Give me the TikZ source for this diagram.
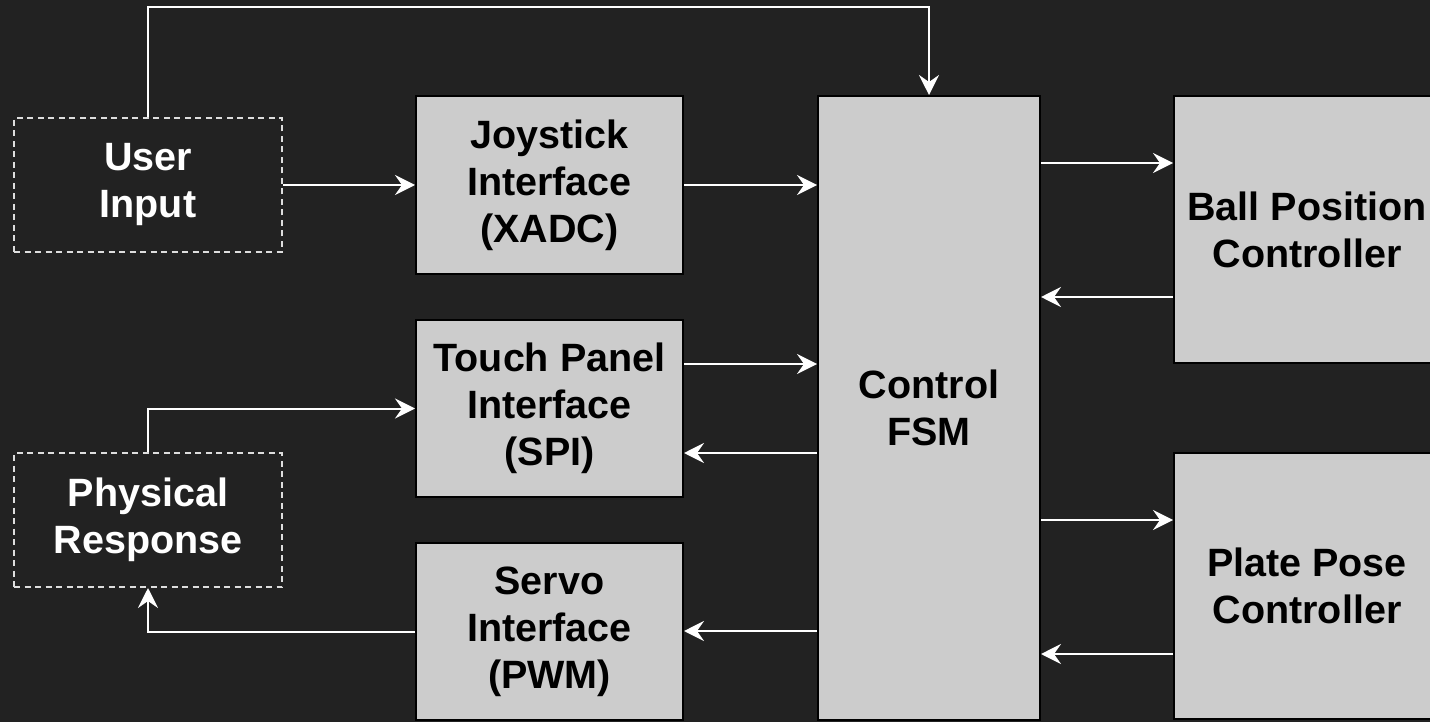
\documentclass[tikz,border=0pt]{standalone}
\usepackage{fontspec}
\setmainfont{Liberation Sans}
\usetikzlibrary{arrows.meta}
\definecolor{sfondo}{RGB}{34,34,34}
\definecolor{grigio}{RGB}{204,204,204}
\definecolor{tratteggio}{RGB}{222,222,222}

\begin{document}
\begin{tikzpicture}[x=1pt, y=-1pt, line width=2pt]
	% Stili dei blocchi e delle frecce
	\tikzset{blocco/.style={rectangle, draw=black, fill=grigio, inner sep=0pt, align=center, font=\fontsize{39.5}{47}\selectfont\bfseries},
		esterno/.style={rectangle, draw=tratteggio, dash pattern=on 6pt off 4.5pt, text=white, minimum width=268pt, minimum height=134pt, inner sep=0pt, align=center, font=\fontsize{39.5}{47}\selectfont\bfseries},
		freccia/.style={draw=white, -{Stealth[length=20pt, width=20pt, inset=7pt]}}}
	
	% Sfondo scuro
	\fill[sfondo] (0,0) rectangle (1430,722);
	\useasboundingbox (0,0) rectangle (1430,722);
	
	% Ingressi e uscite esterne
	\node[esterno] (UI) at (148, 185) {User\\Input};
	\node[esterno] (PR) at (148, 520) {Physical\\Response};
	
	% Interfacce
	\node[blocco, minimum width=267pt, minimum height=178pt] (JOY) at (549.5, 185) {Joystick\\Interface\\(XADC)};
	\node[blocco, minimum width=267pt, minimum height=177pt] (TP) at (549.5, 408.5) {Touch Panel\\Interface\\(SPI)};
	\node[blocco, minimum width=267pt, minimum height=177pt] (SV) at (549.5, 631.5) {Servo\\Interface\\(PWM)};
	
	% Macchina a stati e controllori
	\node[blocco, minimum width=222pt, minimum height=624pt] (FSM) at (929, 408) {Control\\FSM};
	\node[blocco, minimum width=266pt, minimum height=267pt] (BPC) at (1307, 229.5) {Ball Position\\Controller};
	\node[blocco, minimum width=266pt, minimum height=266pt] (PPC) at (1307, 586) {Plate Pose\\Controller};
	
	% Collegamenti a sinistra
	\draw[freccia] (UI.north) -- (UI.north |- 0,7) -| (FSM.north);
	\draw[freccia] (UI.east) -- (JOY.west);
	\draw[freccia] (JOY.east) -- (JOY.east -| FSM.west);
	\draw[freccia] (PR.north) |- (TP.west);
	\draw[freccia] (SV.west) -| (PR.south);
	
	% Collegamenti con la FSM
	\draw[freccia] (TP.east |- 0,364) -- (FSM.west |- 0,364);
	\draw[freccia] (FSM.west |- 0,453) -- (TP.east |- 0,453);
	\draw[freccia] (FSM.west |- 0,631) -- (SV.east |- 0,631);
	
	% Collegamenti a destra
	\draw[freccia] (FSM.east |- 0,163) -- (BPC.west |- 0,163);
	\draw[freccia] (BPC.west |- 0,297) -- (FSM.east |- 0,297);
	\draw[freccia] (FSM.east |- 0,520) -- (PPC.west |- 0,520);
	\draw[freccia] (PPC.west |- 0,654) -- (FSM.east |- 0,654);
	
\end{tikzpicture}
\end{document}
